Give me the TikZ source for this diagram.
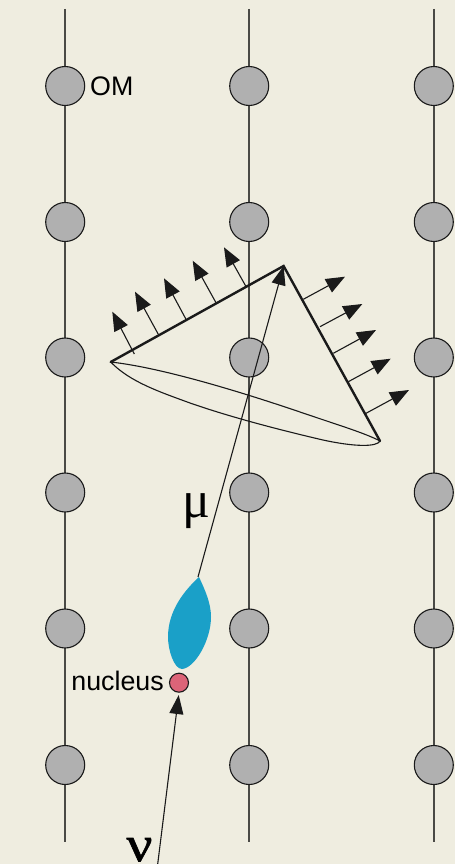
\documentclass[tikz,border=0pt]{standalone}
\usepackage{fontspec}
\setmainfont{Liberation Sans}
\newfontfamily\greekfont{Liberation Serif}
\newfontfamily\nufont[FakeBold=1.3,FakeStretch=1.15]{Liberation Serif}
\usetikzlibrary{arrows.meta}
\definecolor{paper}{HTML}{EFEDE0}
\definecolor{omgrey}{HTML}{B0B0B0}
\definecolor{stringgrey}{HTML}{4A4A46}
\definecolor{inkdark}{HTML}{1A1A1A}
\definecolor{showerblue}{HTML}{1AA0C8}
\definecolor{nucleusred}{HTML}{DC6478}
\tikzset{
  om/.style={circle,draw=inkdark,fill=omgrey,line width=1.1pt,minimum size=39pt,inner sep=0pt},
  stringline/.style={draw=stringgrey,line width=1.5pt},
  conerim/.style={draw=inkdark,line width=2.4pt,line cap=round},
  baseline curve/.style={draw=inkdark,line width=1.1pt},
  track/.style={draw=inkdark,line width=1.1pt,-{Triangle[length=19pt,width=14pt]}},
  photon/.style={draw=inkdark,line width=1.1pt,-{Triangle[length=19pt,width=15pt]}},
  lbl/.style={font=\fontsize{26.8pt}{30pt}\selectfont,text=black,inner sep=0pt},
  mulbl/.style={font=\greekfont\fontsize{52pt}{56pt}\selectfont,text=black,inner sep=0pt},
  nulbl/.style={font=\nufont\fontsize{50pt}{54pt}\selectfont,text=black,inner sep=0pt},
}
\begin{document}
\begin{tikzpicture}[x=1pt,y=-1pt]
\useasboundingbox[fill=paper] (0,0) rectangle (455,864);

% detector strings, each carrying six optical modules
\foreach \col/\x in {a/65.2,b/249.2,c/433.8}{
  \coordinate (\col top) at (\x,9);
  \coordinate (\col bot) at (\x,842);
  \path[stringline] (\col top) -- (\col bot);
  \foreach \row/\y in {1/86,2/222,3/357.5,4/492.5,5/628.5,6/765}{
    \node[om] (\col\row) at (\x,\y) {};
  }
}
\node[lbl,anchor=base west] (omlabel) at (90,96) {OM};

% shower blob and target nucleus
\fill[showerblue] (199,577) .. controls (205,590) and (211,603) .. (211,617)
  .. controls (211,640) and (195,668) .. (182,669)
  .. controls (174,669) and (168,650) .. (168,637)
  .. controls (168,610) and (185,590) .. (199,577) -- cycle;
\node[circle,draw=inkdark,fill=nucleusred,line width=1.1pt,minimum size=19pt,inner sep=0pt] (nucleus) at (179,682.7) {};
\node[lbl,anchor=base east] (nucleuslabel) at (164,690) {nucleus};

% Cherenkov cone corners
\coordinate (apex) at (283.6,266);
\coordinate (left) at (110.7,362);
\coordinate (right) at (380,441);

% base ellipse of the cone
\draw[baseline curve] (left) .. controls (165,368) and (250,395) .. (300,412)
  .. controls (335,424) and (365,433) .. (right)
  .. controls (377,447) and (355,447) .. (323,440)
  .. controls (280,430) and (230,417) .. (190,403)
  .. controls (160,392) and (130,382) .. (left);

% neutrino and muon tracks
\coordinate (muonstart) at (198,577);
\coordinate (nustart) at (157.7,864);
\coordinate (nutip) at (178.7,695);
\draw[track] (muonstart) -- (apex);
\draw[track] (nustart) -- (nutip);

% cone surface
\draw[conerim] (left) -- (apex) -- (right);

% Cherenkov light directions
\foreach \i/\sx/\sy/\tx/\ty in {
  1/134.3/354/112.3/311.7, 2/158.3/334.3/135/291.7, 3/186/319.3/164/278.3,
  4/216/302.7/192.7/260.7, 5/245.7/286/224/247.3,
  6/303.3/299.3/345/276.7, 7/320/326.7/362.3/304, 8/333.3/353.3/376/330,
  9/348.3/381.7/390.7/358.7, 10/366/413.3/409/390}{
  \coordinate (ls\i) at (\sx,\sy);
  \coordinate (lt\i) at (\tx,\ty);
  \draw[photon] (ls\i) -- (lt\i);
}

\node[mulbl,anchor=base] (mulabel) at (196.5,517) {μ};
\node[nulbl,anchor=base] (nulabel) at (139.5,861) {ν};
\end{tikzpicture}
\end{document}
